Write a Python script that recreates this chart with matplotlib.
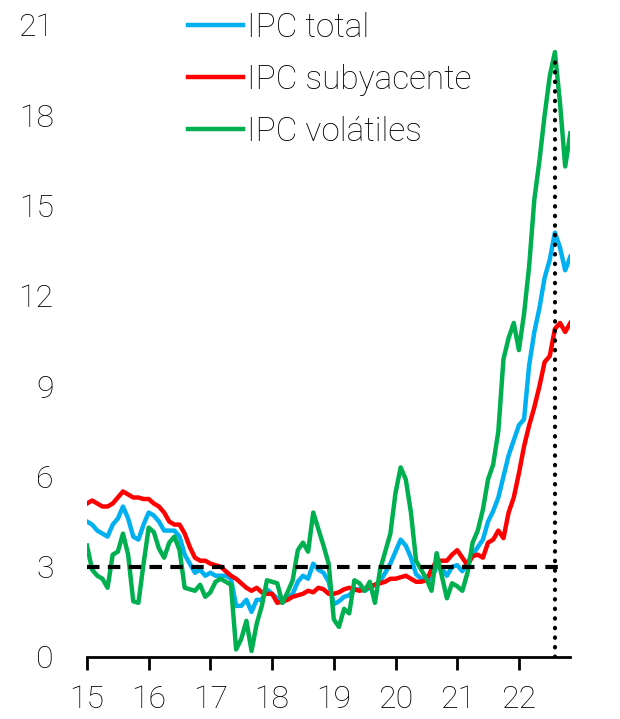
import numpy as np
import matplotlib
matplotlib.use("Agg")
import matplotlib.pyplot as plt

plt.rcParams['font.family'] = ['Roboto', 'DejaVu Sans']
plt.rcParams['font.weight'] = 'light'

# Datos mensuales, ene-2015 a nov-2022 (var. anual, %)
ipc_total = [
    4.5, 4.4, 4.2, 4.1, 4.0, 4.4, 4.6, 5.0, 4.6, 4.0, 3.9, 4.4,
    4.8, 4.7, 4.5, 4.2, 4.2, 4.2, 4.0, 3.4, 3.1, 2.8, 2.9, 2.7,
    2.8, 2.7, 2.7, 2.7, 2.6, 1.7, 1.7, 1.9, 1.5, 1.9, 1.9, 2.25,
    2.1, 1.95, 1.8, 1.95, 2.1, 2.5, 2.7, 2.6, 3.1, 2.9, 2.8, 2.5,
    1.75, 1.85, 2.0, 2.05, 2.25, 2.25, 2.2, 2.3, 2.4, 2.5, 2.8, 3.1,
    3.5, 3.9, 3.7, 3.3, 2.75, 2.6, 2.55, 2.6, 3.0, 2.95, 2.7, 3.0,
    3.05, 2.85, 3.15, 3.4, 3.65, 3.9, 4.5, 4.85, 5.3, 6.0, 6.7, 7.2,
    7.7, 7.9, 9.7, 10.8, 11.6, 12.6, 13.2, 14.1, 13.6, 12.85, 13.3,
]
ipc_subyacente = [
    5.1, 5.2, 5.1, 5.0, 5.0, 5.1, 5.3, 5.5, 5.4, 5.3, 5.3, 5.25,
    5.25, 5.1, 5.0, 4.8, 4.5, 4.4, 4.4, 4.1, 3.65, 3.3, 3.2, 3.2,
    3.1, 3.05, 3.0, 2.85, 2.7, 2.6, 2.45, 2.3, 2.2, 2.3, 2.15, 2.1,
    2.1, 1.8, 1.85, 1.9, 2.0, 2.05, 2.1, 2.2, 2.15, 2.3, 2.25, 2.1,
    2.1, 2.15, 2.25, 2.3, 2.25, 2.2, 2.25, 2.35, 2.4, 2.45, 2.5, 2.6,
    2.6, 2.65, 2.7, 2.6, 2.5, 2.5, 2.55, 2.9, 3.2, 3.2, 3.2, 3.4,
    3.55, 3.3, 3.05, 3.35, 3.4, 3.3, 3.8, 3.9, 4.2, 3.95, 4.8, 5.3,
    6.1, 7.0, 7.7, 8.3, 9.0, 9.8, 10.0, 10.9, 11.1, 10.8, 11.1,
]
ipc_volatiles = [
    3.7, 2.9, 2.7, 2.6, 2.3, 3.4, 3.5, 4.1, 3.4, 1.85, 1.8, 3.1,
    4.3, 4.15, 3.6, 3.3, 3.8, 4.0, 3.55, 2.3, 2.25, 2.2, 2.4, 2.0,
    2.15, 2.5, 2.6, 2.5, 2.4, 0.25, 0.6, 1.2, 0.2, 1.1, 1.7, 2.55,
    2.5, 2.45, 1.8, 2.15, 2.55, 3.55, 3.8, 3.5, 4.8, 4.25, 3.7, 3.1,
    1.25, 1.0, 1.6, 1.45, 2.55, 2.45, 2.2, 2.5, 1.8, 2.9, 3.5, 4.1,
    5.45, 6.3, 5.9, 4.8, 3.2, 2.9, 2.6, 2.2, 3.45, 2.7, 1.95, 2.45,
    2.35, 2.2, 2.8, 3.8, 4.2, 4.9, 5.9, 6.4, 7.5, 9.9, 10.6, 11.1,
    10.2, 11.4, 13.0, 15.2, 16.5, 18.0, 19.3, 20.1, 18.4, 16.3, 17.4,
]

meta = 3
anios = [15, 16, 17, 18, 19, 20, 21, 22]
y_ticks = [0, 3, 6, 9, 12, 15, 18, 21]

# eje x en años (fraccion de año por mes)
meses = 2015 + np.arange(len(ipc_total)) / 12

fig = plt.figure(figsize=(6.2, 7.19), dpi=100)
ax = fig.add_axes([87/620, 62/719, (570-87)/620, (657-25)/719])

ax.plot(meses, ipc_total, color='#00B0F0', lw=3.2, label='IPC total', solid_joinstyle='round')
ax.plot(meses, ipc_subyacente, color='#FF0000', lw=3.2, label='IPC subyacente', solid_joinstyle='round')
ax.plot(meses, ipc_volatiles, color='#00B050', lw=3.2, label='IPC volátiles', solid_joinstyle='round')

# meta de inflacion
ax.axhline(meta, xmin=0, xmax=0.985, color='black', lw=3, linestyle=(0, (3, 2)), dash_capstyle='butt')

# linea vertical en el peak del IPC total
x_peak = meses[int(np.argmax(ipc_total))]
ax.vlines(x_peak, 0, 20, color='black', lw=3, linestyle=(0, (0.1, 2.2)), capstyle='round')

ax.set_xlim(2015, 2015 + (570 - 87) / 61.7)
ax.set_ylim(0, 21)
ax.set_yticks(y_ticks)
ax.set_xticks([2000 + a for a in anios])
ax.set_xticklabels([str(a) for a in anios])

for s in ['top', 'right', 'left']:
    ax.spines[s].set_visible(False)
ax.spines['bottom'].set_linewidth(2)
ax.tick_params(axis='x', direction='out', length=9, width=2, pad=11, labelsize=23)
ax.tick_params(axis='y', length=0, pad=24, labelsize=23)

leg = fig.legend(loc='upper left', bbox_to_anchor=(188/620, 1 - 12/719), frameon=False,
                 fontsize=24, handlelength=1.65, handletextpad=0.13, labelspacing=0.6,
                 borderpad=0, borderaxespad=0)

fig.savefig('out.png', dpi=100)
